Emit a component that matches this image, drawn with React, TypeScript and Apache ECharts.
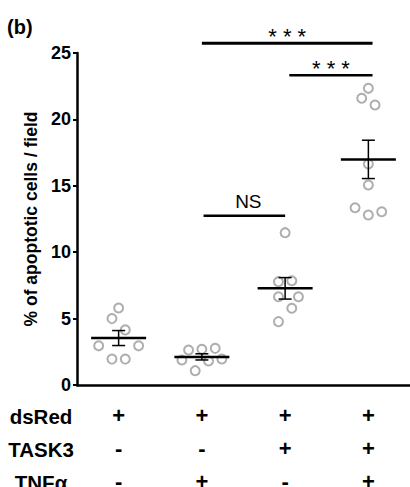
import React, { useEffect, useRef } from "react";
import * as echarts from "echarts";

// Group values (% of apoptotic cells / field)
const group1 = [5.8, 5.0, 4.15, 2.95, 2.95, 1.95, 1.95];
const group2 = [2.64, 2.69, 2.76, 1.88, 1.81, 1.96, 1.08];
const group3 = [11.47, 7.78, 7.85, 6.65, 6.65, 5.78, 4.77];
const group4 = [22.34, 21.59, 21.08, 16.64, 15.06, 13.35, 12.8, 13.05];
// horizontal scatter of each point (in category units)
const jitter1 = [0, -0.08, 0.08, -0.24, 0.24, -0.08, 0.08];
const jitter2 = [-0.16, 0, 0.16, -0.24, 0.08, 0.24, -0.08];
const jitter3 = [0, -0.08, 0.08, -0.08, 0.16, 0.08, -0.08];
const jitter4 = [0, -0.08, 0.08, 0, 0, -0.16, 0, 0.16];

// condition table
const rowNames = ["dsRed", "TASK3", "TNFα"];
const dsRed = ["+", "+", "+", "+"];
const task3 = ["-", "-", "+", "+"];
const tnfa = ["-", "+", "-", "+"];

// y ticks
const yMin = 0;
const yMax = 25;
const yStep = 5;

// significance brackets: from group, to group, height, label
const sigFrom = [1, 2.05, 1.02];
const sigTo = [3.05, 3.05, 2];
const sigY = [25.73, 23.32, 12.75];
const sigText = ["* * *", "* * *", "NS"];

const FONT = "'Liberation Sans', Arial, sans-serif";

function meanSem(v: number[]) {
  const n = v.length;
  const m = v.reduce((a, b) => a + b, 0) / n;
  const sd = Math.sqrt(v.reduce((a, b) => a + (b - m) * (b - m), 0) / (n - 1));
  return [m, sd / Math.sqrt(n)];
}

export default function App() {
  const ref = useRef<HTMLDivElement>(null);
  useEffect(() => {
    if (!ref.current) return;
    const chart = echarts.init(ref.current, undefined, { renderer: "svg" });
    const groups = [group1, group2, group3, group4];
    const jitters = [jitter1, jitter2, jitter3, jitter4];
    const points: number[][] = [];
    groups.forEach((g, i) => g.forEach((v, j) => points.push([i + jitters[i][j], v])));
    const stats = groups.map((g, i) => {
      const [m, s] = meanSem(g);
      return [i, m, m - s, m + s];
    });
    const cats = dsRed.map((_, i) => `${dsRed[i]}\n${task3[i]}\n${tnfa[i]}`);
    const sigData = sigFrom.map((f, i) => [f, sigTo[i], sigY[i]]);

    chart.setOption({
      animation: false,
      grid: { left: 77, right: 0, top: 53, bottom: 102, containLabel: false, outerBoundsMode: "none" },
      xAxis: [
        {
          type: "category",
          data: cats,
          boundaryGap: true,
          axisLine: { onZero: false, lineStyle: { color: "#000", width: 2.5 } },
          axisTick: { alignWithLabel: true, length: 5, lineStyle: { color: "#000", width: 2 } },
          axisLabel: {
            color: "#000",
            fontFamily: FONT,
            fontWeight: "bold",
            fontSize: 22,
            lineHeight: 33,
            margin: 14,
          },
          splitLine: { show: false },
        },
        { type: "value", min: -0.5, max: 3.5, show: false, axisLine: { onZero: false } },
      ],
      yAxis: {
        type: "value",
        min: yMin,
        max: yMax,
        interval: yStep,
        name: "% of apoptotic cells / field",
        nameLocation: "middle",
        nameGap: 28,
        nameTextStyle: { color: "#000", fontFamily: FONT, fontWeight: "bold", fontSize: 17.5 },
        axisLine: { show: true, onZero: false, lineStyle: { color: "#000", width: 2.5 } },
        axisTick: { show: true, length: 4, lineStyle: { color: "#000", width: 2 } },
        axisLabel: { color: "#000", fontFamily: FONT, fontWeight: "bold", fontSize: 18, margin: 6 },
        splitLine: { show: false },
      },
      graphic: [
        {
          type: "text",
          left: 7,
          top: 17,
          style: { text: "(b)", fontFamily: FONT, fontWeight: "bold", fontSize: 20, fill: "#000" },
        },
        ...rowNames.map((t, i) => ({
          type: "text",
          x: 41,
          y: 416 + i * 33,
          style: {
            text: t,
            fontFamily: FONT,
            fontWeight: "bold",
            fontSize: 20.5,
            fill: "#000",
            align: "center",
            verticalAlign: "middle",
          },
        })),
      ],
      series: [
        {
          type: "scatter",
          xAxisIndex: 1,
          data: points,
          symbol: "circle",
          symbolSize: 9,
          itemStyle: { color: "rgba(255,255,255,0)", borderColor: "#9a9a9a", borderWidth: 2 },
          z: 2,
        },
        {
          type: "custom",
          xAxisIndex: 1,
          clip: false,
          z: 3,
          data: stats,
          renderItem: (params: any, api: any) => {
            const x = api.value(0);
            const c = api.coord([x, api.value(1)]);
            const lo = api.coord([x, api.value(2)]);
            const hi = api.coord([x, api.value(3)]);
            const st = { stroke: "#000", lineWidth: 1.5 };
            return {
              type: "group",
              children: [
                { type: "line", shape: { x1: c[0] - 27.5, y1: c[1], x2: c[0] + 27.5, y2: c[1] }, style: { stroke: "#000", lineWidth: 2.5 } },
                { type: "line", shape: { x1: lo[0], y1: lo[1], x2: hi[0], y2: hi[1] }, style: st },
                { type: "line", shape: { x1: lo[0] - 6.5, y1: lo[1], x2: lo[0] + 6.5, y2: lo[1] }, style: st },
                { type: "line", shape: { x1: hi[0] - 6.5, y1: hi[1], x2: hi[0] + 6.5, y2: hi[1] }, style: st },
              ],
            };
          },
        },
        {
          type: "custom",
          xAxisIndex: 1,
          clip: false,
          z: 3,
          data: sigData,
          renderItem: (params: any, api: any) => {
            const p1 = api.coord([api.value(0), api.value(2)]);
            const p2 = api.coord([api.value(1), api.value(2)]);
            const label = sigText[params.dataIndex];
            const isStar = label.indexOf("*") >= 0;
            return {
              type: "group",
              children: [
                { type: "line", shape: { x1: p1[0], y1: p1[1], x2: p2[0], y2: p2[1] }, style: { stroke: "#000", lineWidth: params.dataIndex === 0 ? 3 : 2.5 } },
                {
                  type: "text",
                  x: (p1[0] + p2[0]) / 2 + (isStar ? 0 : 4),
                  y: p1[1] + (isStar ? 4 : -5),
                  style: {
                    text: label,
                    align: "center",
                    verticalAlign: "bottom",
                    fontFamily: FONT,
                    fontSize: isStar ? 22 : 19,
                    fontWeight: "normal",
                    fill: "#000",
                  },
                },
              ],
            };
          },
        },
      ],
    });
    return () => chart.dispose();
  }, []);
  return <div ref={ref} style={{ position: "absolute", left: 0, top: 0, width: 410, height: 487 }} />;
}
